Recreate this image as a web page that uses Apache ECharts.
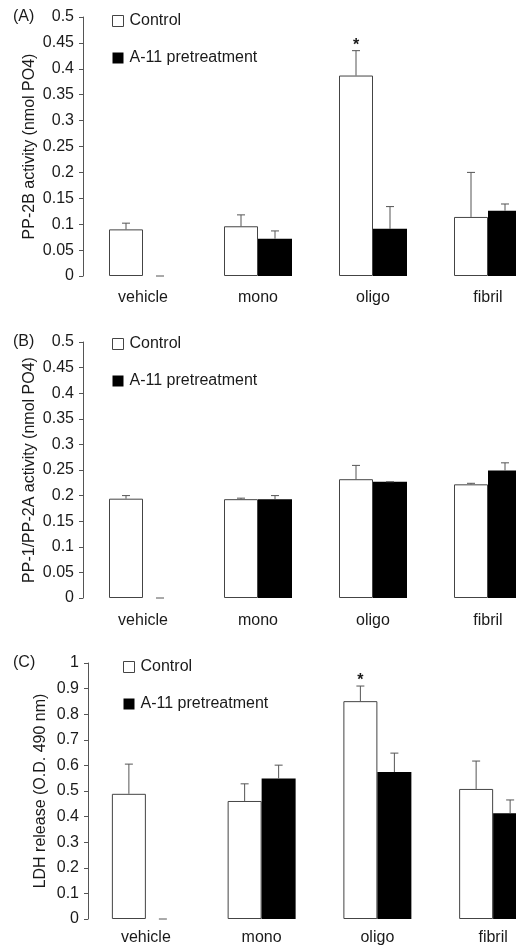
<!DOCTYPE html>
<html>
<head>
<meta charset="utf-8">
<script src="https://cdn.jsdelivr.net/npm/echarts@6/dist/echarts.min.js"></script>
<style>
  html, body { margin: 0; padding: 0; background: #fff; overflow: hidden; }
  /* 图比窗口宽, 右侧被裁掉, 与原图一致 */
  #chart { width: 560px; height: 948px; }
</style>
</head>
<body>
<div id="chart"></div>
<script>
  // 类目
  var categories = ['vehicle', 'mono', 'oligo', 'fibril'];

  // (A) PP-2B activity
  var ppbControl = [0.090, 0.096, 0.387, 0.114];
  var ppbControlErr = [0.012, 0.022, 0.048, 0.086];
  var ppbA11 = [0, 0.072, 0.091, 0.126];
  var ppbA11Err = [0, 0.015, 0.043, 0.013];
  var ppbStars = ['', '', '*', ''];

  // (B) PP-1/PP-2A activity
  var ppaControl = [0.194, 0.193, 0.232, 0.222];
  var ppaControlErr = [0.006, 0.002, 0.027, 0.002];
  var ppaA11 = [0, 0.193, 0.227, 0.249];
  var ppaA11Err = [0, 0.007, 0, 0.015];

  // (C) LDH release
  var ldhControl = [0.489, 0.461, 0.851, 0.508];
  var ldhControlErr = [0.116, 0.067, 0.059, 0.109];
  var ldhA11 = [0, 0.549, 0.574, 0.413];
  var ldhA11Err = [0, 0.052, 0.074, 0.052];
  var ldhStars = ['', '', '*', ''];

  var noStars = ['', '', '', ''];
  var BAR_W = 34;
  var FONT = '"Liberation Sans", Arial, sans-serif';
  var TXT = '#1a1a1a';
  var AXIS = '#555';

  // 误差线 (只画上半部分)
  function errorSeries(idx, values, errs, stars, side) {
    return {
      type: 'custom',
      xAxisIndex: idx,
      yAxisIndex: idx,
      z: 5,
      data: values.map(function (v, i) { return [i, v, errs[i], stars[i]]; }),
      renderItem: function (params, api) {
        var base = api.coord([api.value(0), api.value(1)]);
        var top = api.coord([api.value(0), api.value(1) + api.value(2)]);
        var x = base[0] + side * BAR_W / 2;
        var children = [
          { type: 'line', shape: { x1: x, y1: base[1], x2: x, y2: top[1] }, style: { stroke: AXIS, lineWidth: 1 } },
          { type: 'line', shape: { x1: x - 4, y1: top[1], x2: x + 4, y2: top[1] }, style: { stroke: AXIS, lineWidth: 1 } }
        ];
        var star = stars[params.dataIndex];
        if (star) {
          children.push({
            type: 'text',
            style: { text: star, x: x, y: top[1] - 5, align: 'center', verticalAlign: 'middle', font: 'bold 16px ' + FONT, fill: TXT }
          });
        }
        return { type: 'group', children: children };
      }
    };
  }

  function barPair(idx, control, a11) {
    return [
      {
        name: 'Control', type: 'bar', xAxisIndex: idx, yAxisIndex: idx,
        barWidth: BAR_W, barGap: '0%', data: control,
        itemStyle: { color: '#fff', borderColor: '#444', borderWidth: 1 }
      },
      {
        name: 'A-11 pretreatment', type: 'bar', xAxisIndex: idx, yAxisIndex: idx,
        barWidth: BAR_W, barGap: '0%', data: a11,
        itemStyle: { color: '#000', borderWidth: 0 }
      }
    ];
  }

  function yAxisOf(idx, max, interval, name, offset, gap) {
    return {
      type: 'value', gridIndex: idx, min: 0, max: max, interval: interval, offset: offset,
      name: name, nameLocation: 'middle', nameGap: gap, nameMoveOverlap: false,
      nameTextStyle: { fontFamily: FONT, fontSize: 16, color: TXT },
      axisLine: { show: true, lineStyle: { color: AXIS, width: 1 } },
      axisTick: { show: true, length: 4, lineStyle: { color: AXIS } },
      axisLabel: { margin: 9, fontFamily: FONT, fontSize: 16, color: TXT },
      splitLine: { show: false }
    };
  }

  function xAxisOf(idx, margin) {
    return {
      type: 'category', gridIndex: idx, data: categories,
      axisLine: { show: false }, axisTick: { show: false },
      axisLabel: { margin: margin, fontFamily: FONT, fontSize: 16, color: TXT }
    };
  }

  function legendOf(left, top) {
    return {
      orient: 'vertical', left: left, top: top, itemGap: 21, padding: 0,
      itemWidth: 11, itemHeight: 11, icon: 'rect',
      data: [
        { name: 'Control', itemStyle: { color: '#fff', borderColor: '#444', borderWidth: 1 } },
        { name: 'A-11 pretreatment', itemStyle: { color: '#000', borderWidth: 0 } }
      ],
      textStyle: { fontFamily: FONT, fontSize: 16, color: TXT, padding: [0, 0, 0, 1] },
      selectedMode: false
    };
  }

  var chart = echarts.init(document.getElementById('chart'), null, { renderer: 'canvas' });
  chart.setOption({
    backgroundColor: '#fff',
    animation: false,
    grid: [
      { left: 85.5, top: 17, width: 460, height: 259 },
      { left: 85.5, top: 342, width: 460, height: 256 },
      { left: 88, top: 663, width: 463, height: 256 }
    ],
    legend: [legendOf(112, 13), legendOf(112, 336), legendOf(123, 659)],
    xAxis: [xAxisOf(0, 14), xAxisOf(1, 15), xAxisOf(2, 11)],
    yAxis: [
      yAxisOf(0, 0.5, 0.05, 'PP-2B activity (nmol PO4)', 2.5, 45),
      yAxisOf(1, 0.5, 0.05, 'PP-1/PP-2A activity (nmol PO4)', 2.5, 45),
      yAxisOf(2, 1, 0.1, 'LDH release (O.D. 490 nm)', 0, 39)
    ],
    graphic: [
      { type: 'text', left: 13, top: 9, style: { text: '(A)', font: '16px ' + FONT, fill: TXT } },
      { type: 'text', left: 13, top: 334, style: { text: '(B)', font: '16px ' + FONT, fill: TXT } },
      { type: 'text', left: 13, top: 655, style: { text: '(C)', font: '16px ' + FONT, fill: TXT } }
    ],
    series: [].concat(
      barPair(0, ppbControl, ppbA11),
      [errorSeries(0, ppbControl, ppbControlErr, ppbStars, -1), errorSeries(0, ppbA11, ppbA11Err, noStars, 1)],
      barPair(1, ppaControl, ppaA11),
      [errorSeries(1, ppaControl, ppaControlErr, noStars, -1), errorSeries(1, ppaA11, ppaA11Err, noStars, 1)],
      barPair(2, ldhControl, ldhA11),
      [errorSeries(2, ldhControl, ldhControlErr, ldhStars, -1), errorSeries(2, ldhA11, ldhA11Err, noStars, 1)]
    )
  });
</script>
</body>
</html>
